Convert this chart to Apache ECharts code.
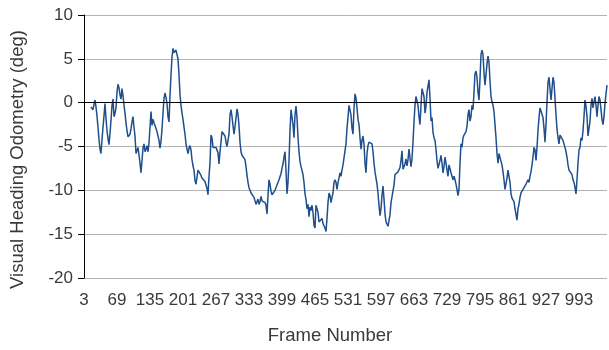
<!DOCTYPE html>
<html>
<head>
<meta charset="utf-8">
<script src="https://cdn.jsdelivr.net/npm/echarts@6/dist/echarts.min.js"></script>
<style>
  html, body { margin: 0; padding: 0; background: #fff; }
  #chart { width: 609px; height: 350px; }
</style>
</head>
<body>
<div id="chart"></div>
<script>
// Frame numbers along the x axis (every second frame, starting at 3)
const frameStart = 3;
const frameStep = 2;
const frameCount = 524;
const frames = [];
for (let i = 0; i < frameCount; i++) frames.push(String(frameStart + i * frameStep));

// Visual heading odometry in degrees, one value per frame above
const heading = [
  null, null, null, null, null, null, null,
  -0.5, -0.3, -0.8, -0.2, 0.3, -0.5, -1.5, -2.8, -4.2, -5.3,
  -5.8, -4.2, -2.8, -1.5, -0.1, -1.8, -3.2, -4.1, -4.8, -3.5,
  -2.0, -0.3, 0.4, -1.6, -1.2, -0.6, 1.2, 2.1, 1.7, 0.9,
  0.4, 1.6, 0.8, -0.3, -1.2, -2.3, -3.2, -3.9, -4.1, -3.6,
  -3.0, -2.2, -1.6, -2.8, -3.8, -5.8, -5.6, -5.1, -6.0, -6.9,
  -8.0, -6.6, -5.2, -4.7, -5.6, -5.3, -4.9, -5.6, -4.6, -2.8,
  -1.0, -2.6, -1.9, -2.3, -2.6, -2.4, -3.3, -3.8, -4.3, -5.2,
  -4.4, -3.0, -1.2, 0.5, 1.1, 0.6, -0.1, -1.6, -2.2, 0.8,
  3.2, 5.2, 6.2, 5.7, 5.6, 6.0, 6.1, 5.0, 3.2, 0.9,
  -0.3, -1.2, -1.9, -2.8, -3.6, -4.7, -5.3, -5.8, -5.2, -4.9,
  -5.4, -6.5, -7.2, -7.7, -8.9, -9.3, -8.5, -7.7, -7.6, -7.9,
  -8.3, -8.6, -8.8, -8.6, -9.0, -9.2, -9.8, -10.5, -8.4, -6.9,
  -3.7, -4.0, -5.1, -5.0, -5.2, -5.1, -5.3, -5.7, -7.0, -5.6,
  -4.5, -3.3, -3.1, -3.4, -3.8, -4.5, -5.0, -5.1, -3.6, -1.4,
  -0.8, -1.6, -2.6, -3.6, -3.4, -1.8, -0.7, -1.3, -2.6, -4.5,
  -5.6, -6.0, -6.0, -6.0, -6.5, -7.3, -8.3, -9.1, -9.7, -10.0,
  -10.3, -10.2, -10.3, -10.8, -11.0, -11.6, -11.7, -11.0, -11.6, -11.3,
  -10.7, -11.2, -11.2, -11.0, -11.4, -11.7, -12.7, -10.6, -8.8, -9.3,
  -10.1, -10.5, -10.6, -10.3, -10.0, -9.7, -9.4, -9.1, -8.8, -8.6,
  -8.1, -7.5, -7.0, -6.2, -5.6, -7.7, -10.4, -9.1, -6.6, -3.2,
  -0.8, -0.6, -2.5, -4.0, -1.4, -0.4, -1.7, -4.0, -5.6, -6.7,
  -7.3, -7.7, -8.2, -9.1, -10.4, -11.0, -12.1, -11.6, -13.0, -11.9,
  -12.3, -11.7, -12.5, -14.0, -14.3, -11.7, -11.6, -12.5, -13.6, -13.6,
  -13.6, -13.2, -13.8, -13.6, -14.3, -14.7, -13.2, -11.4, -10.3, -10.6,
  -11.4, -10.8, -10.3, -9.1, -8.8, -9.1, -9.9, -9.1, -8.6, -8.0,
  -8.4, -7.7, -7.1, -7.3, -7.1, -4.7, -2.9, -1.7, -0.3, -0.1,
  -1.4, -2.9, -3.6, -0.6, 1.0, 0.5, -0.6, -1.9, -2.5, -4.0,
  -5.3, -4.3, -3.8, -4.7, -6.9, -8.0, -5.8, -4.9, -4.5, -4.3,
  -4.5, -4.7, -5.6, -6.9, -7.9, -8.6, -9.3, -10.3, -11.7, -12.9,
  -12.1, -10.6, -9.5, -11.0, -12.7, -13.6, -13.8, -14.1, -14.0, -12.8,
  -11.4, -11.5, -11.2, -9.4, -8.2, -8.1, -8.1, -7.9, -7.8, -7.4,
  -6.6, -5.5, -7.6, -7.6, -7.0, -6.4, -7.2, -6.5, -5.3, -5.5,
  -7.3, -6.4, -4.5, -2.2, -0.3, 0.7, 0.5, -0.3, -1.6, -2.5,
  -0.3, 1.6, 1.8, 0.7, -1.2, -0.4, 1.2, 1.1, 2.6, 0.5,
  -2.1, -1.7, -3.4, -4.0, -4.3, -5.4, -6.6, -7.5, -7.3, -6.6,
  -6.0, -6.9, -8.0, -7.3, -6.2, -6.9, -7.7, -8.4, -7.1, -7.3,
  -8.0, -8.4, -8.8, -8.4, -8.8, -9.3, -9.9, -10.6, -9.9, -6.9,
  -4.7, -5.1, -4.0, -3.7, -3.8, -3.3, -2.7, -1.4, -0.8, -2.1,
  -1.6, -0.3, -0.8, 1.2, 3.3, 3.6, 2.9, 1.2, 0.3, 2.7,
  5.5, 6.0, 5.5, 3.4, 2.0, 2.1, 4.4, 5.3, 4.6, 2.5,
  0.7, 0.1, -0.3, -1.0, -2.5, -4.0, -5.8, -6.9, -5.8, -5.8,
  -6.7, -7.1, -7.9, -8.8, -9.9, -10.1, -8.6, -7.7, -7.9, -9.1,
  -10.4, -10.9, -11.0, -11.3, -12.1, -12.1, -13.4, -12.1, -11.6, -10.8,
  -10.3, -10.1, -10.4, -9.7, -9.9, -9.3, -9.5, -8.8, -9.1, -8.4,
  -7.9, -7.1, -6.2, -5.1, -5.4, -6.6, -5.1, -3.2, -1.7, -0.6,
  -0.8, -0.4, -1.7, -2.9, -4.5, -2.5, 0.1, 2.3, 2.9, 1.6,
  0.3, 1.6, 2.9, 2.3, 0.5, -1.4, -3.0, -4.0, -4.7, -3.7,
  -3.5, -3.8, -4.3, -4.7, -5.1, -5.6, -6.2, -7.1, -7.7, -7.9,
  -7.9, -8.2, -8.8, -9.1, -9.7, -10.4, -8.8, -6.9, -5.4, -5.1,
  -4.0, -4.3, -3.2, -1.6, 0.3, -0.4, -1.6, -3.8, -4.0, -2.1,
  -0.3, 0.5, -0.6, 0.1, 0.7, -0.3, -1.6, -0.3, 0.7, 0.3,
  -0.8, -1.9, -2.5, -1.6, -0.1, 1.0, 2.0
];

// Value axis range and step
const yMin = -20;
const yMax = 10;
const yStep = 5;

const textFont = "'Liberation Sans', Arial, sans-serif";
const textColor = '#3a3a3a';
const chart = echarts.init(document.getElementById('chart'), null, { renderer: 'canvas' });

chart.setOption({
  animation: false,
  backgroundColor: '#ffffff',
  grid: { left: 84, right: 2, top: 15, bottom: 65, containLabel: false },
  xAxis: {
    type: 'category',
    data: frames,
    boundaryGap: false,
    name: 'Frame Number',
    nameLocation: 'middle',
    nameGap: 48,
    nameTextStyle: {
      fontFamily: textFont, fontSize: 18.5, color: textColor,
      padding: [0, 31, 0, 0]
    },
    axisLine: { show: true, lineStyle: { color: '#b3b3b3', width: 1 } },
    axisTick: { show: false },
    axisLabel: {
      interval: 32,
      margin: 14,
      fontFamily: textFont,
      fontSize: 17,
      color: textColor
    },
    splitLine: { show: false }
  },
  yAxis: {
    type: 'value',
    min: yMin,
    max: yMax,
    interval: yStep,
    name: 'Visual Heading Odometry (deg)',
    nameLocation: 'middle',
    nameGap: 57,
    nameTextStyle: {
      fontFamily: textFont, fontSize: 18.5, color: textColor,
      padding: [0, 26, 0, 0]
    },
    axisLine: { show: true, lineStyle: { color: '#000000', width: 1 } },
    axisTick: { show: true, length: 6, lineStyle: { color: '#000000' } },
    axisLabel: {
      margin: 11,
      fontFamily: textFont,
      fontSize: 17,
      color: textColor
    },
    splitLine: { show: true, lineStyle: { color: '#b3b3b3', width: 1 } }
  },
  series: [{
    type: 'line',
    data: heading,
    showSymbol: false,
    symbol: 'none',
    connectNulls: false,
    lineStyle: { color: '#1f4f8c', width: 1.5 },
    itemStyle: { color: '#1f4f8c' },
    markLine: {
      silent: true,
      symbol: 'none',
      label: { show: false },
      lineStyle: { color: '#000000', width: 1, type: 'solid' },
      data: [{ yAxis: 0 }]
    },
    z: 3
  }]
});
</script>
</body>
</html>
